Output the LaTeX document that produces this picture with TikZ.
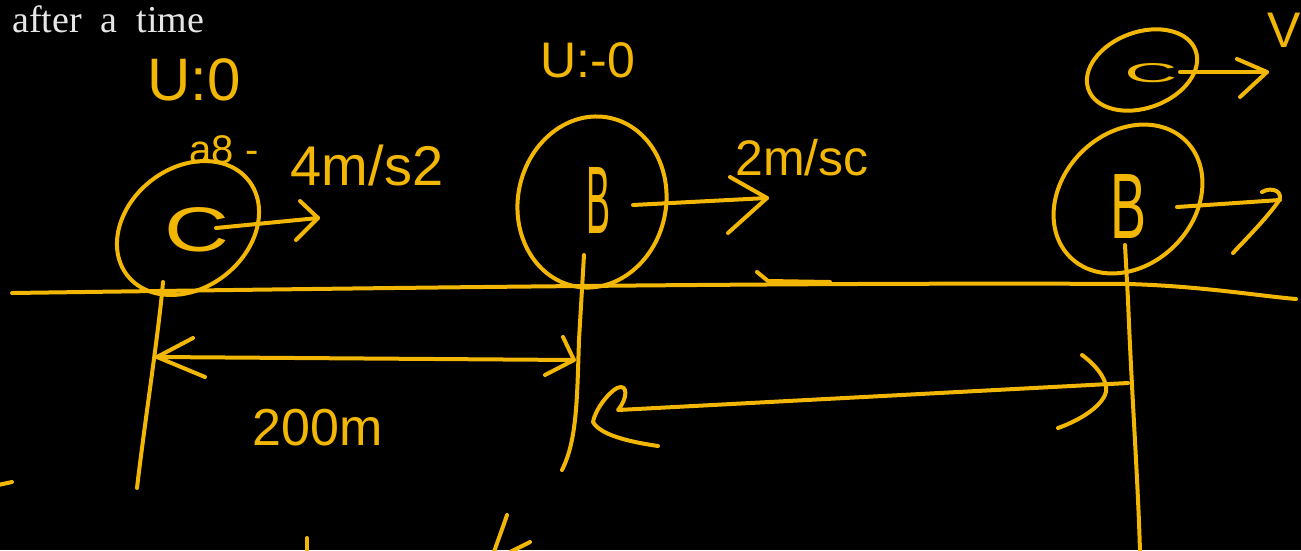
\documentclass[tikz,border=0pt]{standalone}
\usepackage{fontspec}
\setmainfont{Liberation Serif}
\newfontfamily\handfont{Liberation Sans}
\definecolor{ink}{HTML}{F2B705}
\definecolor{paper}{HTML}{E6E6E6}
\begin{document}
\begin{tikzpicture}[x=1pt,y=-1pt,
  hand/.style={draw=ink, line width=4pt, line cap=round, line join=round},
  lbl/.style={text=ink, inner sep=0pt},
]
\fill[black] (0,0) rectangle (1301,550);
\useasboundingbox (0,0) rectangle (1301,550);

% title
\node[anchor=base west, text=paper, inner sep=0pt, font=\fontsize{38}{42}\selectfont] (title) at (12,32) {after\hskip 19pt a\hskip 19pt time};

% ground line
\draw[hand] (12,293) .. controls (300,289) and (800,282) .. (1128,284) .. controls (1200,286) and (1260,296) .. (1296,299);
\draw[hand] (757,272) -- (768,281) -- (830,282);

% ---- body C (left) ----
\coordinate (c1c) at (188,228);
\draw[hand, rotate around={38:(c1c)}] (c1c) ellipse [x radius=77pt, y radius=60pt];
\node[lbl, font=\handfont\fontsize{60}{60}\selectfont] (c1) at (197,230) {\scalebox{1.5}[1.05]{C}};
\coordinate (a1s) at (216,228);
\coordinate (a1t) at (318,218);
\draw[hand] (a1s) -- (a1t);
\draw[hand] (300,201) -- (a1t) -- (296,240);
\node[lbl, font=\handfont\fontsize{60}{60}\selectfont] (u1) at (194,80) {U:0};
\node[lbl, font=\handfont\fontsize{40}{40}\selectfont] (acc) at (224,150) {a8 -};
\node[lbl, font=\handfont\fontsize{56}{56}\selectfont] (acc1) at (367,165) {4m/s2};

% vertical line at C
\draw[hand] (163,282) .. controls (159,330) and (145,420) .. (137,488);

% 200 m dimension
\coordinate (d1l) at (157,357);
\coordinate (d1r) at (574,360);
\draw[hand] (d1l) -- (d1r);
\draw[hand] (193,338) -- (d1l) -- (205,377);
\draw[hand] (563,337) -- (d1r) -- (545,375);
\node[lbl, font=\handfont\fontsize{52}{52}\selectfont] (dist) at (318,428) {200m};

% ---- body B (middle) ----
\coordinate (b1c) at (592,202);
\draw[hand, rotate around={-12:(b1c)}] (b1c) ellipse [x radius=74pt, y radius=86pt];
\node[lbl, font=\handfont\fontsize{60}{60}\selectfont] (b1) at (598,200) {\scalebox{0.6}[1.6]{B}};
\coordinate (a2s) at (633,205);
\coordinate (a2t) at (767,198);
\draw[hand] (a2s) -- (a2t);
\draw[hand] (730,177) -- (a2t) -- (728,233);
\node[lbl, font=\handfont\fontsize{50}{50}\selectfont] (v2) at (802,158) {2m/sc};
\node[lbl, font=\handfont\fontsize{50}{50}\selectfont] (u2) at (588,60) {U:-0};

% vertical line at B
\draw[hand] (584,255) -- (579,340) .. controls (577,400) and (577,440) .. (562,470);

% second dimension
\coordinate (d2l) at (618,410);
\coordinate (d2r) at (1128,383);
\draw[hand] (d2r) -- (d2l) .. controls (628,398) and (628,383) .. (617,388) .. controls (608,393) and (595,410) .. (593,422) .. controls (600,435) and (630,442) .. (658,446);
\draw[hand] (1082,355) .. controls (1100,368) and (1110,385) .. (1105,395) .. controls (1098,410) and (1075,422) .. (1058,428);

% ---- body B (right) ----
\coordinate (b2c) at (1128,199);
\draw[hand, rotate around={45:(b2c)}] (b2c) ellipse [x radius=82pt, y radius=66pt];
\node[lbl, font=\handfont\fontsize{60}{60}\selectfont] (b2) at (1128,207) {\scalebox{0.9}[1.55]{B}};
\coordinate (a3s) at (1177,207);
\coordinate (a3t) at (1280,200);
\draw[hand] (a3s) -- (a3t);
\draw[hand] (1262,192) .. controls (1272,186) and (1285,192) .. (1278,202) .. controls (1265,220) and (1245,240) .. (1233,253);

% vertical line at right B
\draw[hand] (1125,245) -- (1128,300) .. controls (1132,400) and (1138,480) .. (1140,552);

% ---- body C (right, on top) ----
\coordinate (c2c) at (1142,70);
\draw[hand, rotate around={20:(c2c)}] (c2c) ellipse [x radius=57pt, y radius=38pt];
\node[lbl, font=\handfont\fontsize{32}{32}\selectfont] (c2) at (1151,73) {\scalebox{2.3}[0.85]{C}};
\coordinate (a4s) at (1180,72);
\coordinate (a4t) at (1267,72);
\draw[hand] (a4s) -- (a4t);
\draw[hand] (1237,59) -- (a4t) -- (1240,97);
\node[lbl, font=\handfont\fontsize{50}{50}\selectfont] (vv) at (1284,30) {V};

% partial strokes at the edges
\draw[hand] (307,538) -- (307,552);
\draw[hand] (507,515) .. controls (502,530) and (498,540) .. (494,552);
\draw[hand] (530,542) -- (510,552);
\draw[hand] (-2,485) -- (12,482);
\end{tikzpicture}
\end{document}
